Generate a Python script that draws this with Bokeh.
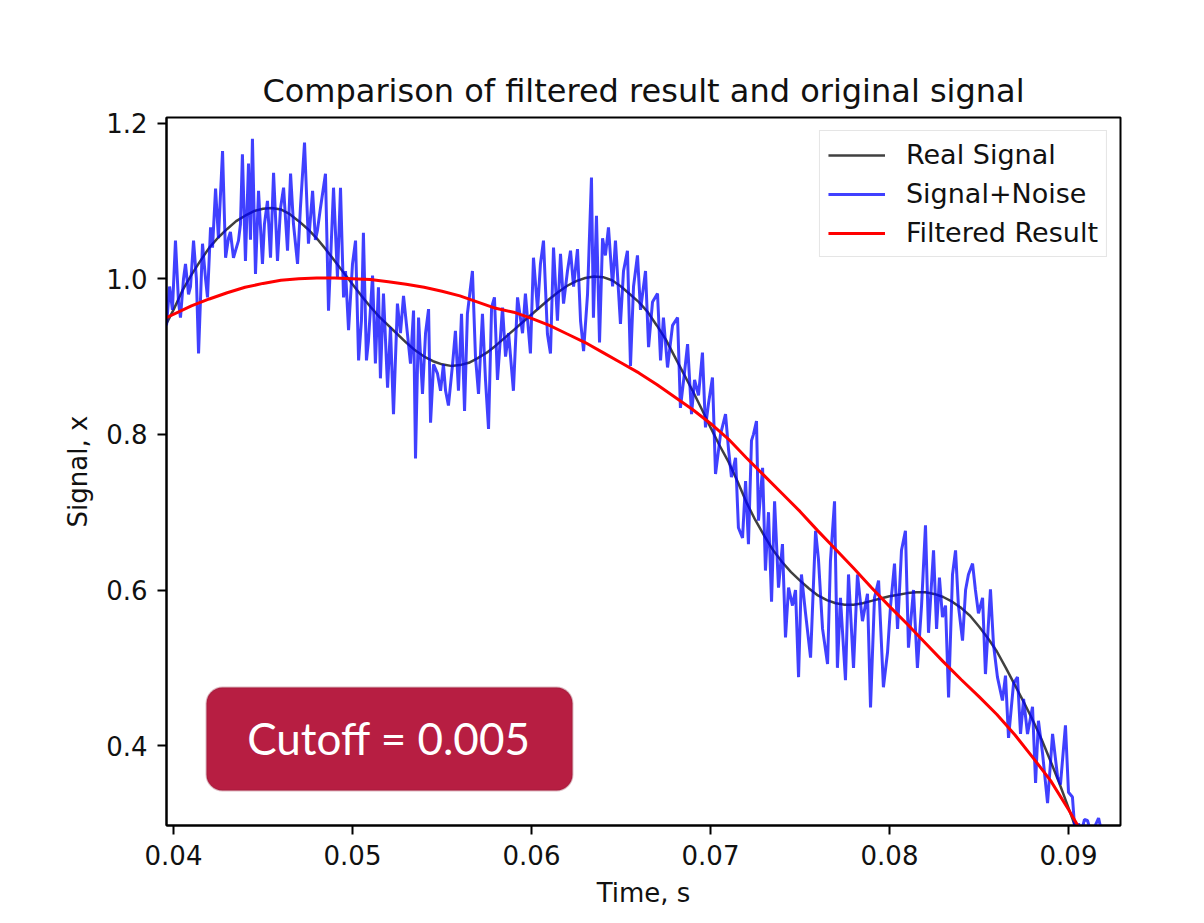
from bokeh.plotting import figure
from bokeh.models import FixedTicker, Legend, LegendItem, BoxAnnotation, Label
from bokeh.embed import file_html
from bokeh.resources import INLINE

# ---------------- data ----------------
title_text = "Comparison of filtered result and original signal"
x_label = "Time, s"
y_label = "Signal, x"
x_ticks = [0.04, 0.05, 0.06, 0.07, 0.08, 0.09]
x_tick_labels = ["0.04", "0.05", "0.06", "0.07", "0.08", "0.09"]
y_ticks = [0.4, 0.6, 0.8, 1.0, 1.2]
y_tick_labels = ["0.4", "0.6", "0.8", "1.0", "1.2"]
series_names = ["Real Signal", "Signal+Noise", "Filtered Result"]
annotation_text = "Cutoff = 0.005"

real_t = [0.0396, 0.0400, 0.0405, 0.0410, 0.0415, 0.0420, 0.0425, 0.0430, 0.0435, 0.0440,
          0.0445, 0.0450, 0.0455, 0.0460, 0.0465, 0.0470, 0.0475, 0.0480, 0.0485, 0.0490,
          0.0495, 0.0500, 0.0505, 0.0510, 0.0515, 0.0520, 0.0525, 0.0530, 0.0535, 0.0540,
          0.0545, 0.0550, 0.0555, 0.0560, 0.0565, 0.0570, 0.0575, 0.0580, 0.0585, 0.0590,
          0.0595, 0.0600, 0.0605, 0.0610, 0.0615, 0.0620, 0.0625, 0.0630, 0.0635, 0.0640,
          0.0645, 0.0650, 0.0655, 0.0660, 0.0665, 0.0670, 0.0675, 0.0680, 0.0685, 0.0690,
          0.0695, 0.0700, 0.0705, 0.0710, 0.0715, 0.0720, 0.0725, 0.0730, 0.0735, 0.0740,
          0.0745, 0.0750, 0.0755, 0.0760, 0.0765, 0.0770, 0.0775, 0.0780, 0.0785, 0.0790,
          0.0795, 0.0800, 0.0805, 0.0810, 0.0815, 0.0820, 0.0825, 0.0830, 0.0835, 0.0840,
          0.0845, 0.0850, 0.0855, 0.0860, 0.0865, 0.0870, 0.0875, 0.0880, 0.0885, 0.0890,
          0.0895, 0.0900, 0.0905, 0.0910]
real_v = [0.942, 0.960, 0.985, 1.005, 1.023, 1.040, 1.053, 1.064, 1.074, 1.081,
          1.087, 1.090, 1.091, 1.089, 1.083, 1.074, 1.064, 1.052, 1.038, 1.023,
          1.008, 0.993, 0.978, 0.964, 0.951, 0.940, 0.929, 0.918, 0.908, 0.900,
          0.894, 0.890, 0.888, 0.889, 0.892, 0.898, 0.905, 0.914, 0.924, 0.934,
          0.944, 0.954, 0.964, 0.974, 0.983, 0.991, 0.997, 1.001, 1.003, 1.002,
          0.998, 0.990, 0.980, 0.970, 0.957, 0.940, 0.922, 0.900, 0.878, 0.856,
          0.833, 0.809, 0.786, 0.765, 0.740, 0.713, 0.690, 0.670, 0.651, 0.636,
          0.623, 0.612, 0.602, 0.593, 0.587, 0.583, 0.581, 0.581, 0.583, 0.586,
          0.589, 0.592, 0.594, 0.596, 0.597, 0.597, 0.595, 0.591, 0.585, 0.577,
          0.567, 0.553, 0.538, 0.521, 0.500, 0.478, 0.456, 0.433, 0.408, 0.380,
          0.351, 0.320, 0.288, 0.255]

noise_pairs = [
    (0.03961, 0.940), (0.03978, 0.990), (0.03994, 0.960), (0.04011, 1.049), (0.04028, 0.970),
    (0.04039, 0.950), (0.04056, 1.000), (0.04067, 1.019), (0.04084, 0.980), (0.04095, 0.990),
    (0.04112, 1.049), (0.04128, 1.000), (0.04140, 0.904), (0.04162, 1.045), (0.04179, 1.000),
    (0.04190, 0.976), (0.04207, 1.066), (0.04218, 1.040), (0.04235, 1.116), (0.04251, 1.052),
    (0.04274, 1.164), (0.04291, 1.027), (0.04307, 1.052), (0.04318, 1.060), (0.04335, 1.027),
    (0.04363, 1.049), (0.04374, 1.070), (0.04385, 1.160), (0.04402, 1.023), (0.04419, 1.148),
    (0.04430, 1.050), (0.04441, 1.180), (0.04458, 1.006), (0.04475, 1.113), (0.04497, 1.019),
    (0.04508, 1.070), (0.04525, 1.100), (0.04542, 1.027), (0.04559, 1.136), (0.04581, 1.023),
    (0.04598, 1.091), (0.04615, 1.117), (0.04637, 1.036), (0.04654, 1.135), (0.04670, 1.071),
    (0.04693, 1.019), (0.04709, 1.091), (0.04732, 1.175), (0.04754, 1.045), (0.04777, 1.113),
    (0.04793, 1.050), (0.04804, 1.062), (0.04821, 1.091), (0.04849, 1.135), (0.04866, 0.959),
    (0.04894, 1.117), (0.04916, 1.002), (0.04933, 1.117), (0.04950, 0.976), (0.04961, 1.010),
    (0.04978, 0.934), (0.05000, 1.019), (0.05017, 1.049), (0.05034, 0.895), (0.05050, 0.946),
    (0.05061, 1.059), (0.05078, 0.895), (0.05089, 0.920), (0.05112, 1.004), (0.05128, 0.891),
    (0.05145, 0.989), (0.05156, 0.872), (0.05173, 0.981), (0.05196, 0.860), (0.05212, 0.938),
    (0.05229, 0.826), (0.05251, 0.968), (0.05268, 0.930), (0.05285, 0.978), (0.05302, 0.940),
    (0.05324, 0.891), (0.05341, 0.959), (0.05352, 0.769), (0.05369, 0.950), (0.05391, 0.852),
    (0.05408, 0.930), (0.05425, 0.961), (0.05436, 0.815), (0.05453, 0.890), (0.05475, 0.878),
    (0.05492, 0.856), (0.05508, 0.890), (0.05520, 0.856), (0.05536, 0.837), (0.05559, 0.890),
    (0.05575, 0.933), (0.05592, 0.856), (0.05609, 0.955), (0.05626, 0.830), (0.05642, 0.955),
    (0.05670, 1.010), (0.05687, 0.900), (0.05704, 0.852), (0.05726, 0.955), (0.05743, 0.870),
    (0.05760, 0.807), (0.05777, 0.963), (0.05793, 0.976), (0.05810, 0.870), (0.05838, 0.963),
    (0.05855, 0.900), (0.05872, 0.930), (0.05899, 0.856), (0.05922, 0.976), (0.05950, 0.930),
    (0.05966, 0.981), (0.05994, 0.904), (0.06011, 1.027), (0.06034, 0.960), (0.06050, 1.019),
    (0.06067, 1.049), (0.06089, 0.929), (0.06106, 0.904), (0.06123, 1.040), (0.06145, 0.946),
    (0.06162, 1.032), (0.06179, 0.968), (0.06201, 1.010), (0.06218, 1.036), (0.06235, 0.990),
    (0.06257, 1.038), (0.06274, 0.946), (0.06291, 0.907), (0.06313, 0.980), (0.06335, 1.130),
    (0.06346, 0.950), (0.06363, 1.081), (0.06380, 0.918), (0.06397, 1.052), (0.06413, 1.030),
    (0.06430, 1.066), (0.06453, 0.990), (0.06469, 1.049), (0.06497, 0.942), (0.06514, 1.010),
    (0.06536, 1.036), (0.06553, 0.888), (0.06570, 0.990), (0.06592, 1.030), (0.06609, 0.960),
    (0.06637, 1.010), (0.06654, 0.912), (0.06676, 0.970), (0.06704, 0.981), (0.06721, 0.895),
    (0.06737, 0.950), (0.06760, 0.886), (0.06788, 0.940), (0.06816, 0.950), (0.06832, 0.834),
    (0.06855, 0.880), (0.06872, 0.916), (0.06894, 0.826), (0.06911, 0.870), (0.06933, 0.850),
    (0.06955, 0.905), (0.06972, 0.809), (0.06989, 0.840), (0.07011, 0.873), (0.07028, 0.749),
    (0.07056, 0.800), (0.07084, 0.826), (0.07101, 0.780), (0.07117, 0.745), (0.07140, 0.770),
    (0.07156, 0.680), (0.07179, 0.667), (0.07196, 0.740), (0.07212, 0.659), (0.07229, 0.792),
    (0.07240, 0.800), (0.07257, 0.817), (0.07268, 0.689), (0.07291, 0.757), (0.07307, 0.625),
    (0.07324, 0.700), (0.07341, 0.585), (0.07358, 0.714), (0.07380, 0.603), (0.07402, 0.659),
    (0.07419, 0.539), (0.07436, 0.603), (0.07458, 0.580), (0.07475, 0.600), (0.07492, 0.488),
    (0.07508, 0.620), (0.07531, 0.570), (0.07559, 0.513), (0.07587, 0.676), (0.07603, 0.640),
    (0.07626, 0.550), (0.07654, 0.505), (0.07670, 0.637), (0.07693, 0.714), (0.07709, 0.500),
    (0.07726, 0.590), (0.07754, 0.484), (0.07771, 0.620), (0.07799, 0.500), (0.07821, 0.620),
    (0.07849, 0.560), (0.07877, 0.595), (0.07894, 0.449), (0.07916, 0.590), (0.07939, 0.612),
    (0.07966, 0.475), (0.07989, 0.520), (0.08006, 0.580), (0.08028, 0.634), (0.08045, 0.550),
    (0.08067, 0.651), (0.08089, 0.676), (0.08106, 0.526), (0.08134, 0.600), (0.08156, 0.500),
    (0.08179, 0.580), (0.08201, 0.683), (0.08218, 0.545), (0.08246, 0.651), (0.08263, 0.550),
    (0.08279, 0.616), (0.08296, 0.565), (0.08313, 0.580), (0.08330, 0.462), (0.08352, 0.620),
    (0.08369, 0.651), (0.08385, 0.580), (0.08408, 0.535), (0.08425, 0.600), (0.08441, 0.620),
    (0.08464, 0.634), (0.08480, 0.600), (0.08497, 0.570), (0.08520, 0.590), (0.08536, 0.492),
    (0.08564, 0.601), (0.08581, 0.530), (0.08603, 0.488), (0.08631, 0.458), (0.08648, 0.490),
    (0.08665, 0.410), (0.08693, 0.480), (0.08715, 0.488), (0.08732, 0.415), (0.08749, 0.460),
    (0.08771, 0.415), (0.08799, 0.450), (0.08816, 0.352), (0.08832, 0.432), (0.08855, 0.390),
    (0.08883, 0.326), (0.08911, 0.415), (0.08939, 0.360), (0.08955, 0.350), (0.08983, 0.426),
    (0.09000, 0.340), (0.09022, 0.334), (0.09039, 0.280), (0.09056, 0.300), (0.09073, 0.290),
    (0.09089, 0.305), (0.09106, 0.304), (0.09123, 0.290), (0.09145, 0.295), (0.09168, 0.307),
    (0.09184, 0.290),
]
noise_t = [a for a, b in noise_pairs]
noise_v = [b for a, b in noise_pairs]

filt_t = [0.0396, 0.0410, 0.0420, 0.0430, 0.0440, 0.0450, 0.0460, 0.0470, 0.0480, 0.0490,
          0.0500, 0.0510, 0.0520, 0.0530, 0.0540, 0.0550, 0.0560, 0.0570, 0.0580, 0.0590,
          0.0600, 0.0610, 0.0620, 0.0630, 0.0640, 0.0650, 0.0660, 0.0670, 0.0680, 0.0690,
          0.0700, 0.0710, 0.0720, 0.0730, 0.0740, 0.0750, 0.0760, 0.0770, 0.0780, 0.0790,
          0.0800, 0.0810, 0.0820, 0.0830, 0.0840, 0.0850, 0.0860, 0.0870, 0.0880, 0.0890,
          0.0900, 0.0905, 0.0910]
filt_v = [0.950, 0.965, 0.974, 0.982, 0.989, 0.994, 0.998, 1.000, 1.001, 1.001,
          1.000, 0.999, 0.996, 0.993, 0.989, 0.984, 0.978, 0.970, 0.962, 0.957,
          0.949, 0.940, 0.929, 0.918, 0.905, 0.892, 0.879, 0.864, 0.848, 0.832,
          0.814, 0.794, 0.770, 0.747, 0.724, 0.701, 0.676, 0.652, 0.628, 0.603,
          0.579, 0.556, 0.532, 0.508, 0.485, 0.463, 0.440, 0.414, 0.385, 0.355,
          0.318, 0.298, 0.280]

# ---------------- figure ----------------
FONT = "DejaVu Sans"
p = figure(width=1200, height=920, output_backend="svg", toolbar_location=None,
           x_range=(0.039609, 0.092905), y_range=(0.29737, 1.2072),
           min_border_left=166, min_border_right=80, min_border_top=117, min_border_bottom=95)
p.background_fill_color = "white"
p.border_fill_color = "white"
p.outline_line_color = "black"
p.outline_line_width = 2
p.xgrid.visible = False
p.ygrid.visible = False

p.title.text = title_text
p.title.align = "center"
p.title.text_font = FONT
p.title.text_font_size = "32px"
p.title.text_font_style = "normal"
p.title.text_color = "#111111"
p.title.standoff = 16

for ax in (p.xaxis[0], p.yaxis[0]):
    ax.axis_line_color = "black"
    ax.axis_line_width = 2
    ax.major_tick_line_color = "black"
    ax.major_tick_line_width = 2
    ax.major_tick_out = 9
    ax.major_tick_in = 0
    ax.minor_tick_line_color = None
    ax.major_label_text_font = FONT
    ax.major_label_text_font_size = "26px"
    ax.major_label_text_color = "#111111"
    ax.axis_label_text_font = FONT
    ax.axis_label_text_font_size = "26px"
    ax.axis_label_text_font_style = "normal"
    ax.axis_label_text_color = "#111111"

p.xaxis[0].ticker = FixedTicker(ticks=x_ticks)
p.xaxis[0].major_label_overrides = dict(zip(x_ticks, x_tick_labels))
p.xaxis[0].axis_label = x_label
p.xaxis[0].major_label_standoff = 10
p.xaxis[0].axis_label_standoff = 10

p.yaxis[0].ticker = FixedTicker(ticks=y_ticks)
p.yaxis[0].major_label_overrides = dict(zip(y_ticks, y_tick_labels))
p.yaxis[0].axis_label = y_label
p.yaxis[0].major_label_standoff = 10
p.yaxis[0].axis_label_standoff = 10

r_real = p.line(real_t, real_v, line_color="black", line_alpha=0.75, line_width=2.5)
r_noise = p.line(noise_t, noise_v, line_color="blue", line_alpha=0.75, line_width=3)
r_filt = p.line(filt_t, filt_v, line_color="red", line_width=3)

legend = Legend(items=[LegendItem(label=series_names[0], renderers=[r_real]),
                       LegendItem(label=series_names[1], renderers=[r_noise]),
                       LegendItem(label=series_names[2], renderers=[r_filt])],
                location="top_right")
legend.margin = 13
legend.padding = 8
legend.spacing = 8
legend.glyph_width = 57
legend.glyph_height = 30
legend.label_standoff = 21
legend.label_text_font = FONT
legend.label_text_font_size = "27px"
legend.label_text_color = "#111111"
legend.border_line_color = "#cccccc"
legend.border_line_width = 1.5
legend.background_fill_alpha = 0.8
p.add_layout(legend, "center")

box = BoxAnnotation(left=0.041844, right=0.06229, bottom=0.3423, top=0.4746,
                    fill_color="#B71E42", fill_alpha=1.0,
                    line_color="#8C1832", line_width=2, border_radius=16)
p.add_layout(box)
lbl = Label(x=0.052039, y=0.4095, text=annotation_text, text_align="center",
            text_baseline="middle", text_color="white", text_font="Lato",
            text_font_size="44px")
p.add_layout(lbl)

open("out.html", "w").write(file_html(p, INLINE))
